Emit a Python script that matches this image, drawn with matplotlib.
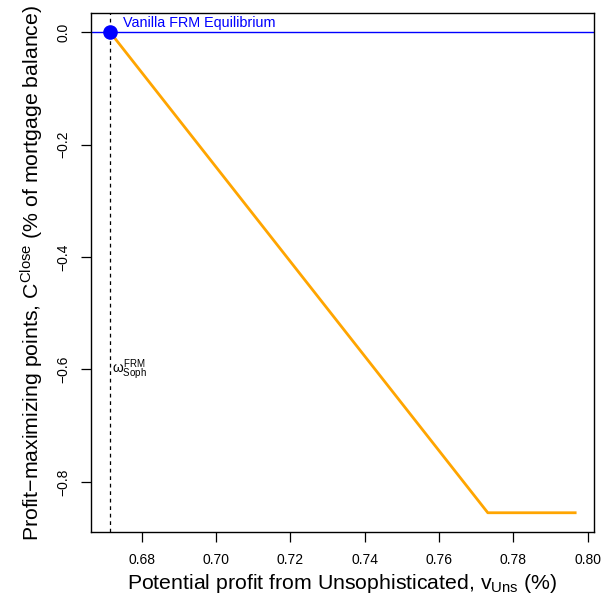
import numpy as np
import matplotlib
matplotlib.use("Agg")
import matplotlib.pyplot as plt

plt.rcParams.update({
    "font.family": ["Liberation Sans", "DejaVu Sans"],
    "mathtext.fontset": "custom",
    "mathtext.rm": "Liberation Sans",
    "mathtext.it": "Liberation Sans",
    "axes.linewidth": 1.0,
})

# data
v_uns = [0.6715, 0.7731, 0.7966]
c_close = [0.0, -0.855, -0.855]
eq_x = 0.6715
eq_y = 0.0
omega_soph = 0.6715

x_ticks = [0.68, 0.70, 0.72, 0.74, 0.76, 0.78, 0.80]
y_ticks = [0.0, -0.2, -0.4, -0.6, -0.8]

fig = plt.figure(figsize=(6.03, 6.07), dpi=100)
ax = fig.add_axes([0.1517, 0.1236, 0.833, 0.855])

ax.plot(v_uns, c_close, color="#FFA500", linewidth=2.0)
ax.axhline(eq_y, color="#0000FF", linewidth=1.0)
ax.axvline(omega_soph, color="black", linewidth=0.9, linestyle=(0, (3, 3)))
ax.plot([eq_x], [eq_y], "o", color="#0000FF", markersize=9.5, zorder=5)

ax.text(eq_x + 0.0035, eq_y + 0.004, "Vanilla FRM Equilibrium", color="#0000FF",
        fontsize=10.4, va="bottom", ha="left")
ax.text(omega_soph + 0.0006, -0.6, r"$\omega_{\mathrm{Soph}}^{\mathrm{FRM}}$",
        fontsize=10, va="center", ha="left")

span_x = max(v_uns) - min(v_uns)
ax.set_xlim(min(v_uns) - 0.04 * span_x, max(v_uns) + 0.04 * span_x)
span_y = max(c_close) - min(c_close)
ax.set_ylim(min(c_close) - 0.04 * span_y, max(c_close) + 0.04 * span_y)

ax.set_xticks(x_ticks)
ax.set_xticklabels([f"{t:.2f}" for t in x_ticks])
ax.set_yticks(y_ticks)
ax.set_yticklabels([f"{t:.1f}".replace("-", "\u2212") for t in y_ticks],
                   rotation=90, va="center")
ax.tick_params(direction="out", length=7, width=0.9, labelsize=10, pad=8)

ax.set_xlabel(r"Potential profit from Unsophisticated, v$_{\mathrm{Uns}}$ (%)",
              fontsize=15.3, labelpad=4)
ax.set_ylabel("Profit\u2212maximizing points, C$^{\\mathrm{Close}}$ (% of mortgage balance)",
              fontsize=15.3, labelpad=8)

fig.savefig("out.png", dpi=100)
